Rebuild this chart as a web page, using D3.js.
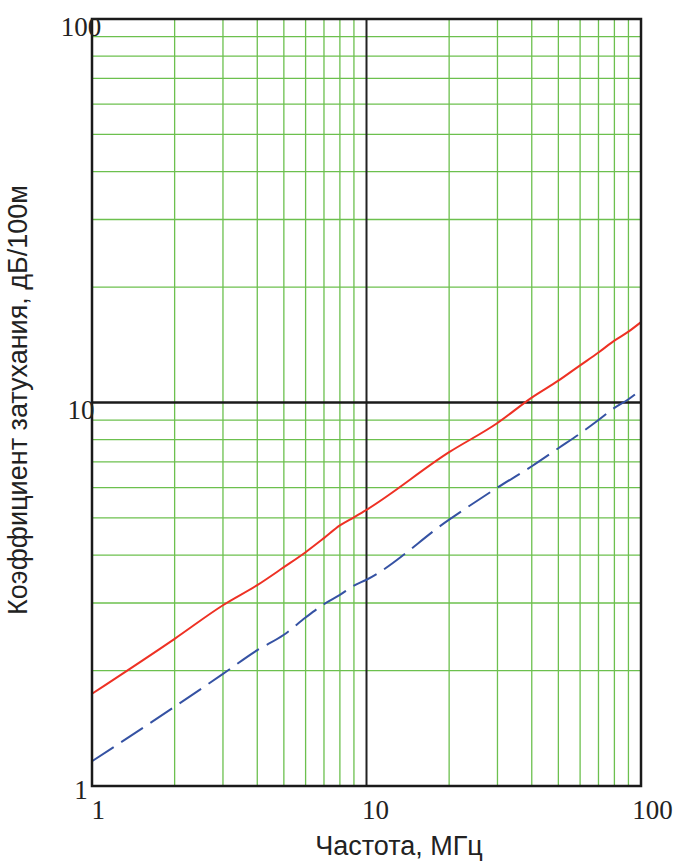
<!DOCTYPE html>
<html>
  <head>
    <meta charset="utf-8">
    <script src="https://cdn.jsdelivr.net/npm/d3@7"></script>
    <style type="text/css">
      body { margin: 0; background: #fff; }
      .tick-label { font-family: "Liberation Serif", "Times New Roman", serif; font-size: 27px; fill: #222; }
      .title { font-family: "Liberation Sans", Arial, sans-serif; font-size: 27px; fill: #222; }
    </style>
  </head>
  <body>
    <div class="plot_canvas"></div>
    <script>
      // frequency, MHz
      var freq = [1, 2, 3, 4, 5, 6, 7, 8, 9, 10, 20, 30, 40, 50, 60, 70, 80, 90, 100];
      // attenuation, dB/100m
      var redSeries  = [1.74, 2.42, 2.96, 3.34, 3.72, 4.07, 4.43, 4.78, 5.02, 5.25, 7.42, 8.84, 10.3, 11.4, 12.5, 13.5, 14.5, 15.3, 16.2];
      var blueSeries = [1.16, 1.61, 1.96, 2.26, 2.48, 2.75, 2.98, 3.15, 3.33, 3.45, 4.95, 6.0, 6.82, 7.6, 8.3, 9.0, 9.68, 10.2, 10.8];
      var majorTicks = [1, 10, 100];
      var xTitle = "Частота, МГц";
      var yTitle = "Коэффициент затухания, дБ/100м";

      var width = 675, height = 861;
      var margin = {top: 19, right: 34, bottom: 75, left: 92};

      var xScale = d3.scaleLog().domain([1, 100]).range([margin.left, width - margin.right]);
      var yScale = d3.scaleLog().domain([1, 100]).range([height - margin.bottom, margin.top]);

      var svg = d3.select(".plot_canvas").append("svg")
        .attr("width", width)
        .attr("height", height);

      // minor grid (2..9, 20..90)
      var minor = xScale.ticks().filter(function(d) { return majorTicks.indexOf(d) < 0; });

      var grid = svg.append("g");
      grid.selectAll(".vx").data(minor).enter().append("line")
        .attr("x1", function(d) { return xScale(d); })
        .attr("x2", function(d) { return xScale(d); })
        .attr("y1", yScale(1)).attr("y2", yScale(100))
        .attr("stroke", "#6cc04e").attr("stroke-width", 1.3);
      grid.selectAll(".hy").data(minor).enter().append("line")
        .attr("y1", function(d) { return yScale(d); })
        .attr("y2", function(d) { return yScale(d); })
        .attr("x1", xScale(1)).attr("x2", xScale(100))
        .attr("stroke", "#6cc04e").attr("stroke-width", 1.3);

      // decade lines at 10
      grid.append("line")
        .attr("x1", xScale(10)).attr("x2", xScale(10))
        .attr("y1", yScale(1)).attr("y2", yScale(100))
        .attr("stroke", "#222").attr("stroke-width", 2);
      grid.append("line")
        .attr("y1", yScale(10)).attr("y2", yScale(10))
        .attr("x1", xScale(1)).attr("x2", xScale(100))
        .attr("stroke", "#1a1a1a").attr("stroke-width", 2.5);

      // curves
      var line = d3.line()
        .curve(d3.curveMonotoneX)
        .x(function(d) { return xScale(d[0]); })
        .y(function(d) { return yScale(d[1]); });

      svg.append("path")
        .datum(d3.zip(freq, blueSeries))
        .attr("fill", "none")
        .attr("stroke", "#3552a3")
        .attr("stroke-width", 2)
        .attr("stroke-dasharray", "26,9")
        .attr("d", line);

      svg.append("path")
        .datum(d3.zip(freq, redSeries))
        .attr("fill", "none")
        .attr("stroke", "#ee3124")
        .attr("stroke-width", 2)
        .attr("d", line);

      // frame
      svg.append("rect")
        .attr("x", xScale(1)).attr("y", yScale(100))
        .attr("width", xScale(100) - xScale(1))
        .attr("height", yScale(1) - yScale(100))
        .attr("fill", "none")
        .attr("stroke", "#1a1a1a")
        .attr("stroke-width", 2.5);

      // tick labels through axes
      var xAxis = d3.axisBottom(xScale).tickValues(majorTicks).tickFormat(d3.format("d")).tickSize(0);
      var yAxis = d3.axisLeft(yScale).tickValues(majorTicks).tickFormat(d3.format("d")).tickSize(0);

      var gx = svg.append("g")
        .attr("transform", "translate(0," + yScale(1) + ")")
        .call(xAxis);
      gx.select(".domain").remove();
      gx.selectAll("text")
        .attr("class", "tick-label")
        .attr("font-family", null).attr("font-size", null)
        .attr("fill", null)
        .attr("y", 33).attr("dy", 0)
        .attr("dx", function(d) { return 3 + 2.7 * String(d).length; });

      var gy = svg.append("g")
        .attr("transform", "translate(" + xScale(1) + ",0)")
        .call(yAxis);
      gy.select(".domain").remove();
      gy.selectAll("text")
        .attr("class", "tick-label")
        .attr("font-family", null).attr("font-size", null)
        .attr("fill", null)
        .attr("text-anchor", "middle")
        .attr("x", -11)
        .attr("dy", function(d) { return d === 1 ? 12 : 16; });

      // titles
      svg.append("text")
        .attr("class", "title")
        .attr("x", 399).attr("y", 855)
        .attr("text-anchor", "middle")
        .text(xTitle);

      svg.append("text")
        .attr("class", "title")
        .attr("transform", "translate(27," + 400 + ") rotate(-90)")
        .attr("text-anchor", "middle")
        .text(yTitle);
    </script>
  </body>
</html>
